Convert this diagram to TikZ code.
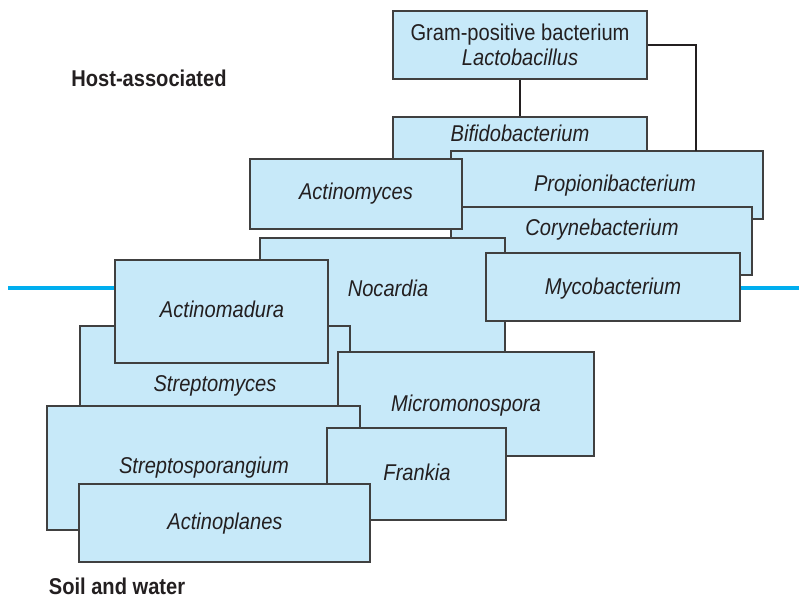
\documentclass[tikz,border=0pt]{standalone}
\usepackage{fontspec}
\setmainfont{Liberation Sans}[FakeStretch=0.88]
\usepackage{xcolor}
\usetikzlibrary{fit}

\begin{document}
\begin{tikzpicture}[
        x=0.02cm, y=-0.02cm,
        taxbox/.style={draw={rgb,255:red,64;green,64;blue,64}, line width=0.6pt,
            fill={rgb,255:red,199;green,233;blue,249}, inner sep=0pt},
        taxname/.style={font=\fontsize{13}{14.5}\selectfont\itshape, inner sep=0pt,
            text={rgb,255:red,35;green,31;blue,32}, align=center,
            text height=1.6ex, text depth=0.1ex},
        habitat/.style={font=\fontsize{13}{14.5}\selectfont\bfseries, inner sep=0pt,
            text={rgb,255:red,35;green,31;blue,32}},
        link/.style={line width=1.5pt, color={rgb,255:red,35;green,31;blue,32}},
        divide/.style={line width=2.8pt, color={rgb,255:red,0;green,174;blue,239}},
    ]
    \newcommand{\taxon}[4]{%
        \node[taxbox, fit={#2}] (#1) {};
        \node[taxname] (#1-name) at (#3) {#4};}
        \useasboundingbox (0,0) rectangle (799,599);

        % Habitat divide
        \coordinate (divleft) at (8,288);
        \coordinate (divright) at (799,288);
        \draw[divide] (divleft) -- (divright);

        % Habitats
        \node[habitat] (host) at (149,78) {Host-associated};
        \node[habitat] (soil) at (117,586) {Soil and water};

        % Root
        \node[taxbox, fit={(393,11) (647,79)}] (gram) {};
        \node[taxname, text height=, text depth=] (gram-name) at (520,45)
            {{\upshape Gram-positive bacterium}\\Lactobacillus};

        % Host-associated genera
        \taxon{bifido}{(393,117) (647,170)}{520,135}{Bifidobacterium}
        \taxon{propioni}{(451,151) (763,219)}{615,185}{Propionibacterium}
        \taxon{coryne}{(451,207) (752,275)}{602,229}{Corynebacterium}
        \taxon{actinomyces}{(250,159) (462,229)}{356,193}{Actinomyces}
        \taxon{nocardia}{(260,238) (505,356)}{388,290}{Nocardia}
        \taxon{myco}{(486,253) (740,321)}{613,288}{Mycobacterium}

        % Soil and water genera
        \taxon{streptomyces}{(80,326) (350,420)}{215,385}{Streptomyces}
        \taxon{actinomadura}{(115,260) (328,363)}{222,311}{Actinomadura}
        \taxon{micromono}{(338,352) (594,456)}{466,405}{Micromonospora}
        \taxon{streptospor}{(47,406) (360,530)}{204,467}{Streptosporangium}
        \taxon{frankia}{(327,428) (506,520)}{417,474}{Frankia}
        \taxon{actinoplanes}{(79,484) (370,562)}{225,523}{Actinoplanes}

        % Links
        \coordinate (propjoin) at (696,151);
        \draw[link] (gram.south) -- (bifido.north);
        \draw[link] (gram.east) -| (propjoin);

    \end{tikzpicture}
\end{document}
